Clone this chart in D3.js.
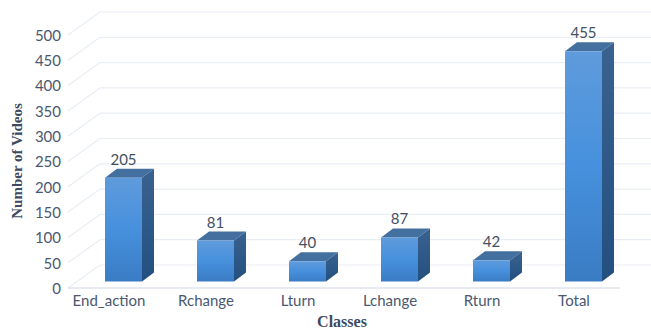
<!DOCTYPE html>
<html>
<head>
<meta charset="utf-8">
<script src="https://cdn.jsdelivr.net/npm/d3@7"></script>
<style>
  html, body { margin: 0; padding: 0; background: #fff; }
  svg { display: block; }
  .tick text { font-family: Lato, sans-serif; font-size: 15px; fill: #4a5870; }
  .value { font-family: Lato, sans-serif; font-size: 15px; fill: #44505f; text-anchor: middle; }
  .title { font-family: "Liberation Serif", serif; font-size: 15px; font-weight: bold; fill: #3d4a60; text-anchor: middle; }
</style>
</head>
<body>
<svg width="651" height="329"></svg>
<script>
var classes = ["End_action", "Rchange", "Lturn", "Lchange", "Rturn", "Total"];
var videos = [205, 81, 40, 87, 42, 455];
var yTicks = [0, 50, 100, 150, 200, 250, 300, 350, 400, 450, 500];

var svg = d3.select("svg");

// floor corners: front edge runs along the axis, back wall sits up and to the right
var wallDx = 32, wallDy = -23;
var barDx = 12, barDy = -9;

var x = d3.scaleBand().domain(classes).range([68, 620]);
var y = d3.scaleLinear().domain([0, 500]).range([288, 35]);

var barWidth = 37;
var barLeft = function (d) { return x(d) + 37; };
var barY = function (v) { return y(v) - 6.5; };

// bar shading
var defs = svg.append("defs");
var front = defs.append("linearGradient")
    .attr("id", "barFront")
    .attr("x1", 0).attr("y1", 0).attr("x2", 0).attr("y2", 1);
front.append("stop").attr("offset", "0%").attr("stop-color", "#5f9bdc");
front.append("stop").attr("offset", "50%").attr("stop-color", "#4690dd");
front.append("stop").attr("offset", "100%").attr("stop-color", "#3a7cc4");

var side = defs.append("linearGradient")
    .attr("id", "barSide")
    .attr("x1", 0).attr("y1", 0).attr("x2", 0).attr("y2", 1);
side.append("stop").attr("offset", "0%").attr("stop-color", "#3a6290");
side.append("stop").attr("offset", "100%").attr("stop-color", "#234f7f");

// back wall gridlines and the diagonal lines down the side wall
var grid = svg.append("g");
grid.selectAll(".back")
    .data(yTicks)
    .enter()
    .append("line")
    .attr("x1", 68 + wallDx)
    .attr("x2", 620 + wallDx)
    .attr("y1", function (d) { return y(d) + wallDy; })
    .attr("y2", function (d) { return y(d) + wallDy; })
    .attr("stroke", "#e9eef5")
    .attr("stroke-width", 1.2);
grid.selectAll(".diag")
    .data(yTicks)
    .enter()
    .append("line")
    .attr("x1", 68)
    .attr("x2", 68 + wallDx)
    .attr("y1", function (d) { return y(d); })
    .attr("y2", function (d) { return y(d) + wallDy; })
    .attr("stroke", "#e9eef5")
    .attr("stroke-width", 1.2);
grid.append("line")
    .attr("x1", 68).attr("x2", 620)
    .attr("y1", y(0)).attr("y2", y(0))
    .attr("stroke", "#dfe5ed")
    .attr("stroke-width", 1.4);

// axes, text only
var yAxis = svg.append("g")
    .attr("transform", "translate(61,0.5)")
    .call(d3.axisLeft(y).tickValues(yTicks).tickSize(0).tickPadding(0));
yAxis.select(".domain").remove();

var xAxis = svg.append("g")
    .attr("transform", "translate(0,293)")
    .call(d3.axisBottom(x).tickSize(0).tickPadding(2));
xAxis.select(".domain").remove();
xAxis.selectAll(".tick text")
    .attr("dx", function (d) { return d === "End_action" ? -5 : 0; });

// 3d bars
var bar = svg.selectAll(".bar")
    .data(classes)
    .enter()
    .append("g")
    .attr("class", "bar");

bar.append("path")
    .attr("fill", "#44709f")
    .attr("d", function (d, i) {
        var l = barLeft(d), t = barY(videos[i]);
        return d3.line()([[l, t], [l + barWidth, t], [l + barWidth + barDx, t + barDy], [l + barDx, t + barDy]]) + "Z";
    });

bar.append("path")
    .attr("fill", "url(#barSide)")
    .attr("d", function (d, i) {
        var r = barLeft(d) + barWidth, t = barY(videos[i]), b = barY(0);
        return d3.line()([[r, t], [r + barDx, t + barDy], [r + barDx, b + barDy], [r, b]]) + "Z";
    });

bar.append("rect")
    .attr("x", barLeft)
    .attr("y", function (d, i) { return barY(videos[i]); })
    .attr("width", barWidth)
    .attr("height", function (d, i) { return barY(0) - barY(videos[i]); })
    .attr("fill", "url(#barFront)");

bar.append("text")
    .attr("class", "value")
    .attr("x", function (d) { return barLeft(d) + barWidth / 2; })
    .attr("y", function (d, i) { return barY(videos[i]) - 13; })
    .text(function (d, i) { return videos[i]; });

// axis titles
svg.append("text")
    .attr("class", "title")
    .attr("x", 342)
    .attr("y", 327)
    .style("font-size", "16px")
    .text("Classes");

svg.append("text")
    .attr("class", "title")
    .attr("transform", "translate(22,161) rotate(-90)")
    .text("Number of Videos");
</script>
</body>
</html>
